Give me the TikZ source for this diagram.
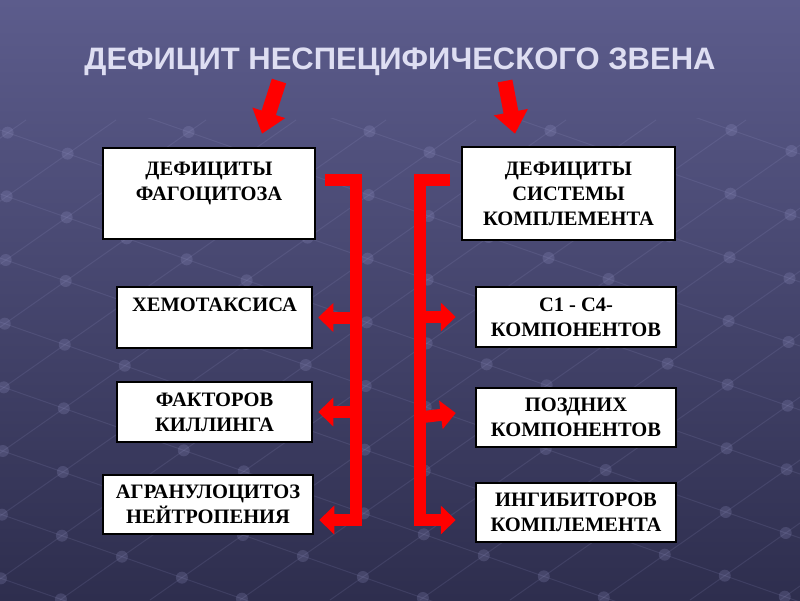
\documentclass[tikz,border=0pt]{standalone}
\usepackage{fontspec}
\setmainfont{Liberation Serif}
\newfontfamily\headfont{Liberation Sans}
\usepackage{xcolor}
\usetikzlibrary{positioning,calc,arrows.meta}
\definecolor{bgtop}{RGB}{92,92,140}
\definecolor{bgbottom}{RGB}{46,46,78}
\definecolor{headcol}{RGB}{222,222,242}
\definecolor{gridcol}{RGB}{160,160,210}

\begin{document}
\begin{tikzpicture}[
    x=1pt, y=-1pt,
    box/.style={rectangle, draw=black, fill=white, line width=2.5pt, align=center, inner sep=0pt, font=\bfseries\fontsize{20.5}{25}\selectfont},
    head/.style={font=\headfont\bfseries\fontsize{31}{36}\selectfont, text=headcol},
    downarrow/.style={draw=red, line width=15pt, -{Triangle[length=22pt, width=33pt]}},
    branch/.style={draw=red, line width=12pt, line join=miter, -{Triangle[length=15pt, width=28pt]}},
    gridline/.style={draw=gridcol, line width=1pt, opacity=0.14},
    griddot/.style={fill=gridcol, opacity=0.2}
]
    \useasboundingbox (0,0) rectangle (800,600);
    \shade[top color=bgtop, bottom color=bgbottom] (0,0) rectangle (800,600);

    % background grid
    \begin{scope}
        \clip (0,118) rectangle (800,600);
        \foreach \k in {-6,...,7}
            \draw[gridline] (0,130+64*\k) -- (800,410+64*\k);
        \foreach \j in {-4,...,12}
            \draw[gridline] (90*\j-300,600) -- (90*\j+386,120);
        \foreach \k in {-6,...,7}
            \foreach \j in {-4,...,12}
                \fill[griddot] ({(260+63*\j-64*\k)/1.05},{130+64*\k+0.35*(260+63*\j-64*\k)/1.05}) circle (6);
    \end{scope}

    \node[head, anchor=base] (title) at (400,69) {ДЕФИЦИТ НЕСПЕЦИФИЧЕСКОГО ЗВЕНА};

    \node[box, minimum width=212, minimum height=91] (phag) at (209,193.5) {ДЕФИЦИТЫ\\ФАГОЦИТОЗА\\~};
    \node[box, minimum width=213, minimum height=93] (compl) at (568.5,193.5) {ДЕФИЦИТЫ\\СИСТЕМЫ\\КОМПЛЕМЕНТА};

    \node[box, minimum width=195, minimum height=61] (chemo) at (214.5,317.5) {ХЕМОТАКСИСА\\~};
    \node[box, minimum width=195, minimum height=60] (kill) at (214.5,412) {ФАКТОРОВ\\КИЛЛИНГА};
    \node[box, minimum width=210, minimum height=59] (agran) at (208,504.5) {АГРАНУЛОЦИТОЗ\\НЕЙТРОПЕНИЯ};

    \node[box, minimum width=200, minimum height=60] (early) at (576,317) {С1 - С4-\\КОМПОНЕНТОВ};
    \node[box, minimum width=200, minimum height=59] (late) at (576,417.5) {ПОЗДНИХ\\КОМПОНЕНТОВ};
    \node[box, minimum width=200, minimum height=59] (inhib) at (576,512.5) {ИНГИБИТОРОВ\\КОМПЛЕМЕНТА};

    \coordinate (ltail) at (279,81);
    \coordinate (rtail) at (505,81);
    \draw[downarrow] (ltail) -- ([xshift=53pt, yshift=13pt]phag.north);
    \draw[downarrow] (rtail) -- ([xshift=-53.5pt, yshift=12pt]compl.north);

    \coordinate (ltop) at (325,180);
    \coordinate (lbar) at (355.5,180);
    \coordinate (lend) at ([xshift=5pt, yshift=-15.5pt]agran.east);
    \draw[branch] (ltop) -- (lbar) -- (lbar |- lend) -- (lend);
    \draw[branch] (lbar |- chemo.east) -- ([xshift=5pt]chemo.east);
    \draw[branch] (lbar |- kill.east) -- ([xshift=5pt]kill.east);

    \coordinate (rtop) at (450,180);
    \coordinate (rbar) at (419.5,180);
    \coordinate (rend) at ([xshift=-19pt, yshift=-7.5pt]inhib.west);
    \draw[branch] (rtop) -- (rbar) -- (rbar |- rend) -- (rend);
    \draw[branch] (rbar |- early.west) -- ([xshift=-19pt]early.west);
    \draw[branch] (rbar |- late.west) -- ([xshift=-19pt, yshift=4.5pt]late.west);
\end{tikzpicture}
\end{document}
